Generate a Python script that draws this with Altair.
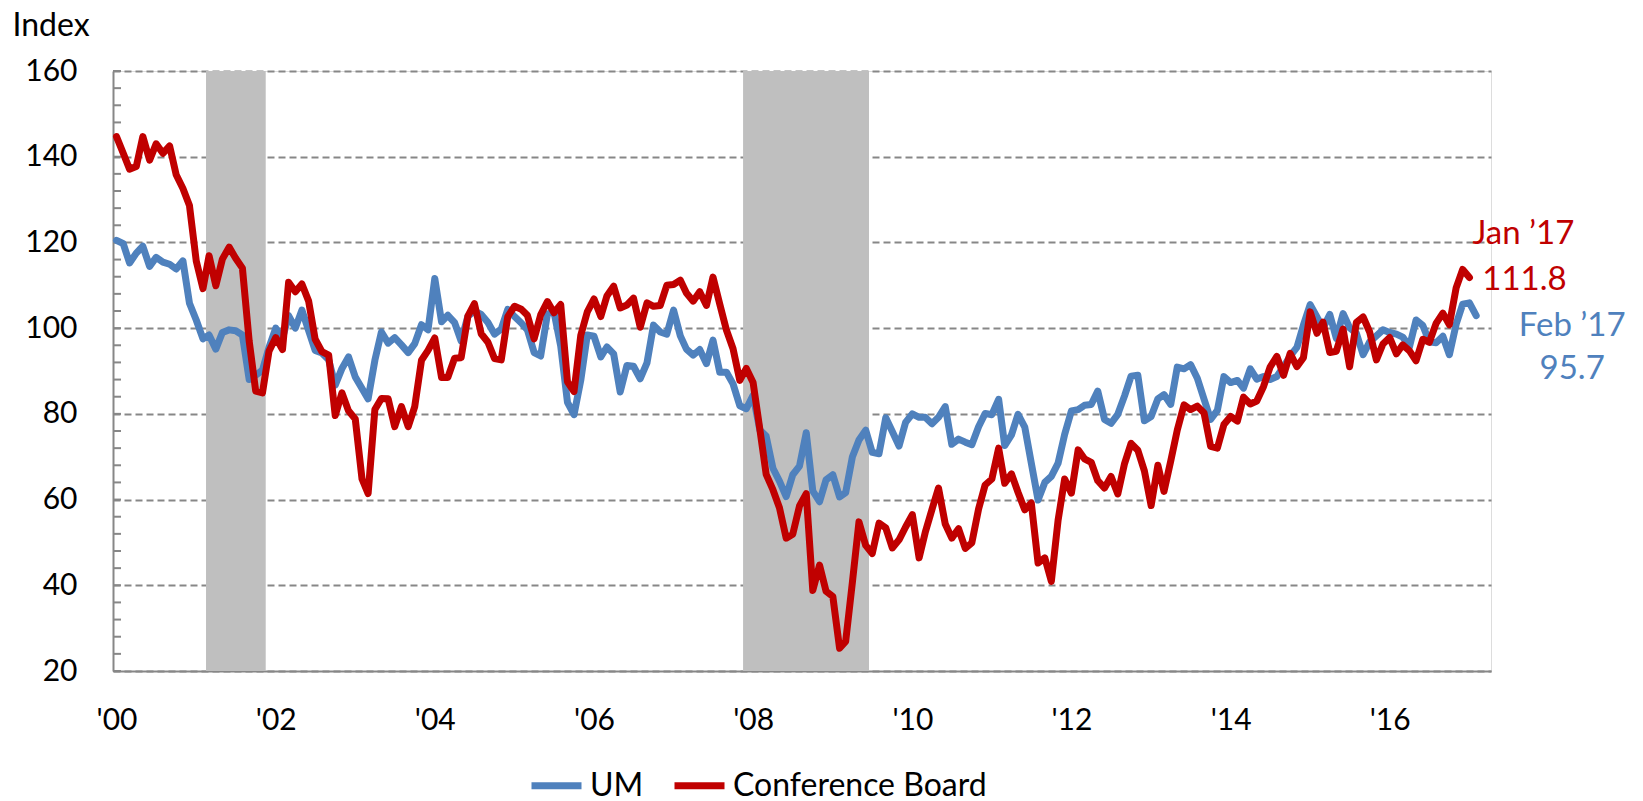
import altair as alt
import pandas as pd

# ---- data (monthly) ----
um_values = [
    120.5, 119.7, 115.2, 117.5, 119.1, 114.4, 116.5, 115.4, 114.9, 113.8, 115.7, 105.8,  # 2000
    101.9, 97.5, 98.4, 95.1, 99.0, 99.6, 99.4, 98.4, 88.0, 89.0, 90.2, 95.5,  # 2001
    100.0, 97.6, 102.9, 100.0, 104.2, 99.4, 94.8, 94.2, 92.6, 86.7, 90.6, 93.3,  # 2002
    88.6, 85.9, 83.5, 92.5, 99.1, 96.5, 97.8, 96.1, 94.3, 96.4, 100.8, 99.6,  # 2003
    111.6, 101.5, 103.0, 101.3, 97.0, 102.8, 104.0, 103.2, 101.3, 98.6, 99.8, 104.4,  # 2004
    102.7, 101.2, 99.6, 94.3, 93.5, 103.3, 103.8, 95.8, 82.7, 79.8, 87.8, 98.4,  # 2005
    98.1, 93.3, 95.6, 94.0, 85.1, 91.3, 91.1, 88.2, 91.9, 100.7, 99.1, 98.6,  # 2006
    104.2, 98.2, 95.1, 93.7, 95.0, 91.7, 97.2, 89.7, 89.7, 87.0, 81.9, 81.2,  # 2007
    84.3, 76.2, 74.8, 67.3, 64.3, 60.7, 65.8, 67.8, 75.6, 62.0, 59.5, 64.6,  # 2008
    65.8, 60.6, 61.6, 70.0, 73.9, 76.2, 71.0, 70.7, 79.1, 75.9, 72.5, 78.0,  # 2009
    80.0, 79.2, 79.2, 77.7, 79.2, 81.7, 72.9, 74.1, 73.4, 72.8, 77.0, 80.1,  # 2010
    79.8, 83.4, 72.6, 75.1, 79.9, 76.9, 68.5, 59.9, 64.0, 65.4, 68.5, 75.2,  # 2011
    80.7, 81.0, 82.0, 82.2, 85.3, 78.7, 77.8, 79.9, 84.2, 88.8, 89.0, 78.4,  # 2012
    79.4, 83.5, 84.5, 82.2, 90.9, 90.5, 91.5, 88.3, 83.4, 78.7, 80.8, 88.7,  # 2013
    87.3, 87.8, 86.0, 90.5, 88.1, 88.7, 88.0, 88.7, 91.0, 93.5, 95.5, 100.7,  # 2014
    105.5, 102.6, 100.0, 103.2, 97.6, 103.4, 100.1, 98.8, 93.8, 96.8, 98.2, 99.6,  # 2015
    99.0, 98.6, 97.9, 95.7, 101.9, 100.6, 96.8, 96.6, 98.1, 93.8, 100.9, 105.6,  # 2016
    105.9, 102.9,  # 2017
]
cb_values = [
    144.7, 140.8, 137.1, 137.7, 144.7, 139.2, 143.0, 140.8, 142.5, 135.8, 132.6, 128.6,  # 2000
    115.7, 109.2, 116.9, 109.9, 116.1, 118.9, 116.3, 114.0, 97.0, 85.3, 84.9, 94.6,  # 2001
    97.8, 95.0, 110.7, 108.5, 110.3, 106.3, 97.4, 94.5, 93.7, 79.6, 84.9, 80.7,  # 2002
    78.8, 64.8, 61.4, 81.0, 83.6, 83.5, 77.0, 81.7, 77.0, 81.7, 92.5, 94.8,  # 2003
    97.7, 88.5, 88.5, 93.0, 93.1, 102.8, 105.7, 98.7, 96.7, 92.9, 92.6, 102.7,  # 2004
    105.1, 104.4, 103.0, 97.5, 103.1, 106.2, 103.6, 105.5, 87.5, 85.2, 98.3, 103.8,  # 2005
    106.8, 102.7, 107.5, 109.8, 104.7, 105.4, 107.0, 100.2, 105.9, 105.1, 105.3, 110.0,  # 2006
    110.2, 111.2, 108.2, 106.3, 108.5, 105.3, 111.9, 105.6, 99.5, 95.2, 87.8, 90.6,  # 2007
    87.3, 76.4, 65.9, 62.3, 58.1, 51.0, 51.9, 58.5, 61.4, 38.8, 44.7, 38.6,  # 2008
    37.4, 25.3, 26.9, 40.8, 54.8, 49.3, 47.4, 54.5, 53.4, 48.7, 50.6, 53.6,  # 2009
    56.5, 46.4, 52.3, 57.7, 62.7, 54.3, 51.0, 53.2, 48.6, 49.9, 57.8, 63.4,  # 2010
    64.8, 72.0, 63.8, 66.0, 61.7, 57.6, 59.2, 45.2, 46.4, 40.9, 55.2, 64.8,  # 2011
    61.5, 71.6, 69.5, 68.7, 64.4, 62.7, 65.4, 61.3, 68.4, 73.1, 71.5, 66.7,  # 2012
    58.6, 68.0, 61.9, 69.0, 76.2, 82.1, 81.0, 81.8, 80.2, 72.4, 72.0, 77.5,  # 2013
    79.4, 78.3, 83.9, 82.3, 83.0, 86.4, 90.9, 93.4, 89.0, 94.1, 91.0, 93.1,  # 2014
    103.8, 98.8, 101.4, 94.3, 94.6, 99.8, 91.0, 101.3, 102.6, 99.1, 92.6, 96.3,  # 2015
    97.8, 94.0, 96.1, 94.7, 92.4, 97.4, 96.7, 101.1, 103.5, 100.8, 109.4, 113.7,  # 2016
    111.8,  # 2017
]
series_names = ["UM", "Conference Board"]
series_colors = ["#4F81BD", "#C00000"]

recession_starts = ["2001-02-15", "2007-11-16"]
recession_ends = ["2001-11-16", "2009-06-16"]

y_tick_values = [20, 40, 60, 80, 100, 120, 140, 160]
minor_tick_values = list(range(20, 161, 4))
x_tick_years = [2000, 2002, 2004, 2006, 2008, 2010, 2012, 2014, 2016]

cb_note = ["Jan \u201917", "111.8"]
um_note = ["Feb \u201917", "95.7"]

FONT = "Lato"
GRID = "#878787"

# ---- tables ----
um_dates = pd.date_range("2000-01-01", periods=len(um_values), freq="MS")
cb_dates = pd.date_range("2000-01-01", periods=len(cb_values), freq="MS")
df = pd.concat([
    pd.DataFrame({"date": um_dates, "value": um_values, "series": series_names[0]}),
    pd.DataFrame({"date": cb_dates, "value": cb_values, "series": series_names[1]}),
], ignore_index=True)
df["date"] = df["date"].dt.strftime("%Y-%m-%d")

rec_df = pd.DataFrame({"start": recession_starts, "end": recession_ends})
ticks_df = pd.DataFrame({"v": minor_tick_values})

cb_last = pd.DataFrame({"date": [cb_dates[-1].strftime("%Y-%m-%d")], "value": [cb_values[-1]]})
um_last = pd.DataFrame({"date": [um_dates[-1].strftime("%Y-%m-%d")], "value": [um_values[-1]]})

x_scale = alt.Scale(domain=[alt.DateTime(year=1999, month=12, date=16),
                            alt.DateTime(year=2017, month=4, date=10)])
y_scale = alt.Scale(domain=[20, 160], nice=False, zero=False)

x_axis = alt.Axis(
    values=[alt.DateTime(year=y, month=1, date=1) for y in x_tick_years],
    format="'%y", labelFontSize=30, labelFont=FONT, labelColor="black",
    ticks=False, labelPadding=34, grid=False, domainColor=GRID, domainWidth=2,
    title=None, labelFlush=False,
)
y_axis = alt.Axis(
    values=y_tick_values, labelFontSize=30, labelFont=FONT, labelColor="black",
    ticks=False, labelPadding=36, grid=True, gridColor=GRID, gridDash=[7, 4],
    gridWidth=2, domainColor=GRID, domainWidth=2,
    title="Index", titleAngle=0, titleX=-101, titleY=-46, titleAlign="left",
    titleBaseline="middle", titleFontSize=32, titleFont=FONT,
    titleFontWeight="normal", titleColor="black",
)

color_enc = alt.Color(
    "series:N",
    scale=alt.Scale(domain=series_names, range=series_colors),
    legend=alt.Legend(
        orient="none", legendX=415, legendY=686, direction="horizontal",
        title=None, symbolType="stroke", symbolStrokeWidth=7, symbolSize=2500,
        labelFontSize=32, labelFont=FONT, labelColor="black", labelLimit=500,
        columnPadding=16, labelOffset=5, padding=0,
    ),
)

base = alt.Chart(df)

rects = alt.Chart(rec_df).mark_rect(color="#BFBFBF").encode(
    x=alt.X("start:T", scale=x_scale, axis=x_axis),
    x2="end:T",
    y=alt.datum(160, scale=y_scale, axis=y_axis),
    y2=alt.datum(20),
)

def series_line(name):
    return base.transform_filter(alt.datum.series == name).mark_line(
        strokeWidth=7, strokeJoin="round", strokeCap="round"
    ).encode(
        x=alt.X("date:T", scale=x_scale, axis=x_axis),
        y=alt.Y("value:Q", scale=y_scale, axis=y_axis),
        color=color_enc,
    )

um_line = series_line(series_names[0])
cb_line = series_line(series_names[1])

minor_ticks = alt.Chart(ticks_df).mark_rule(color=GRID, strokeWidth=2).encode(
    y=alt.Y("v:Q", scale=y_scale, axis=y_axis),
    x=alt.value(0),
    x2=alt.value(8),
)

def note(frame, text, color, dx, dy):
    return alt.Chart(frame).mark_text(
        text=text, color=color, fontSize=33, font=FONT,
        align="center", baseline="middle", dx=dx, dy=dy,
    ).encode(
        x=alt.X("date:T", scale=x_scale, axis=x_axis),
        y=alt.Y("value:Q", scale=y_scale, axis=y_axis),
    )

notes = [
    note(cb_last, cb_note[0], series_colors[1], 54, -44),
    note(cb_last, cb_note[1], series_colors[1], 55, 2),
    note(um_last, um_note[0], series_colors[0], 96, 10),
    note(um_last, um_note[1], series_colors[0], 96, 53),
]

chart = alt.layer(rects, minor_ticks, um_line, cb_line, *notes).properties(
    width=1378, height=600,
    autosize=alt.AutoSizeParams(type="none"),
    padding={"left": 105, "top": 63, "right": 140, "bottom": 130},
).configure_view(stroke=None).configure(font=FONT)

chart.save("out.html", embed_options={"renderer": "svg", "actions": False})
